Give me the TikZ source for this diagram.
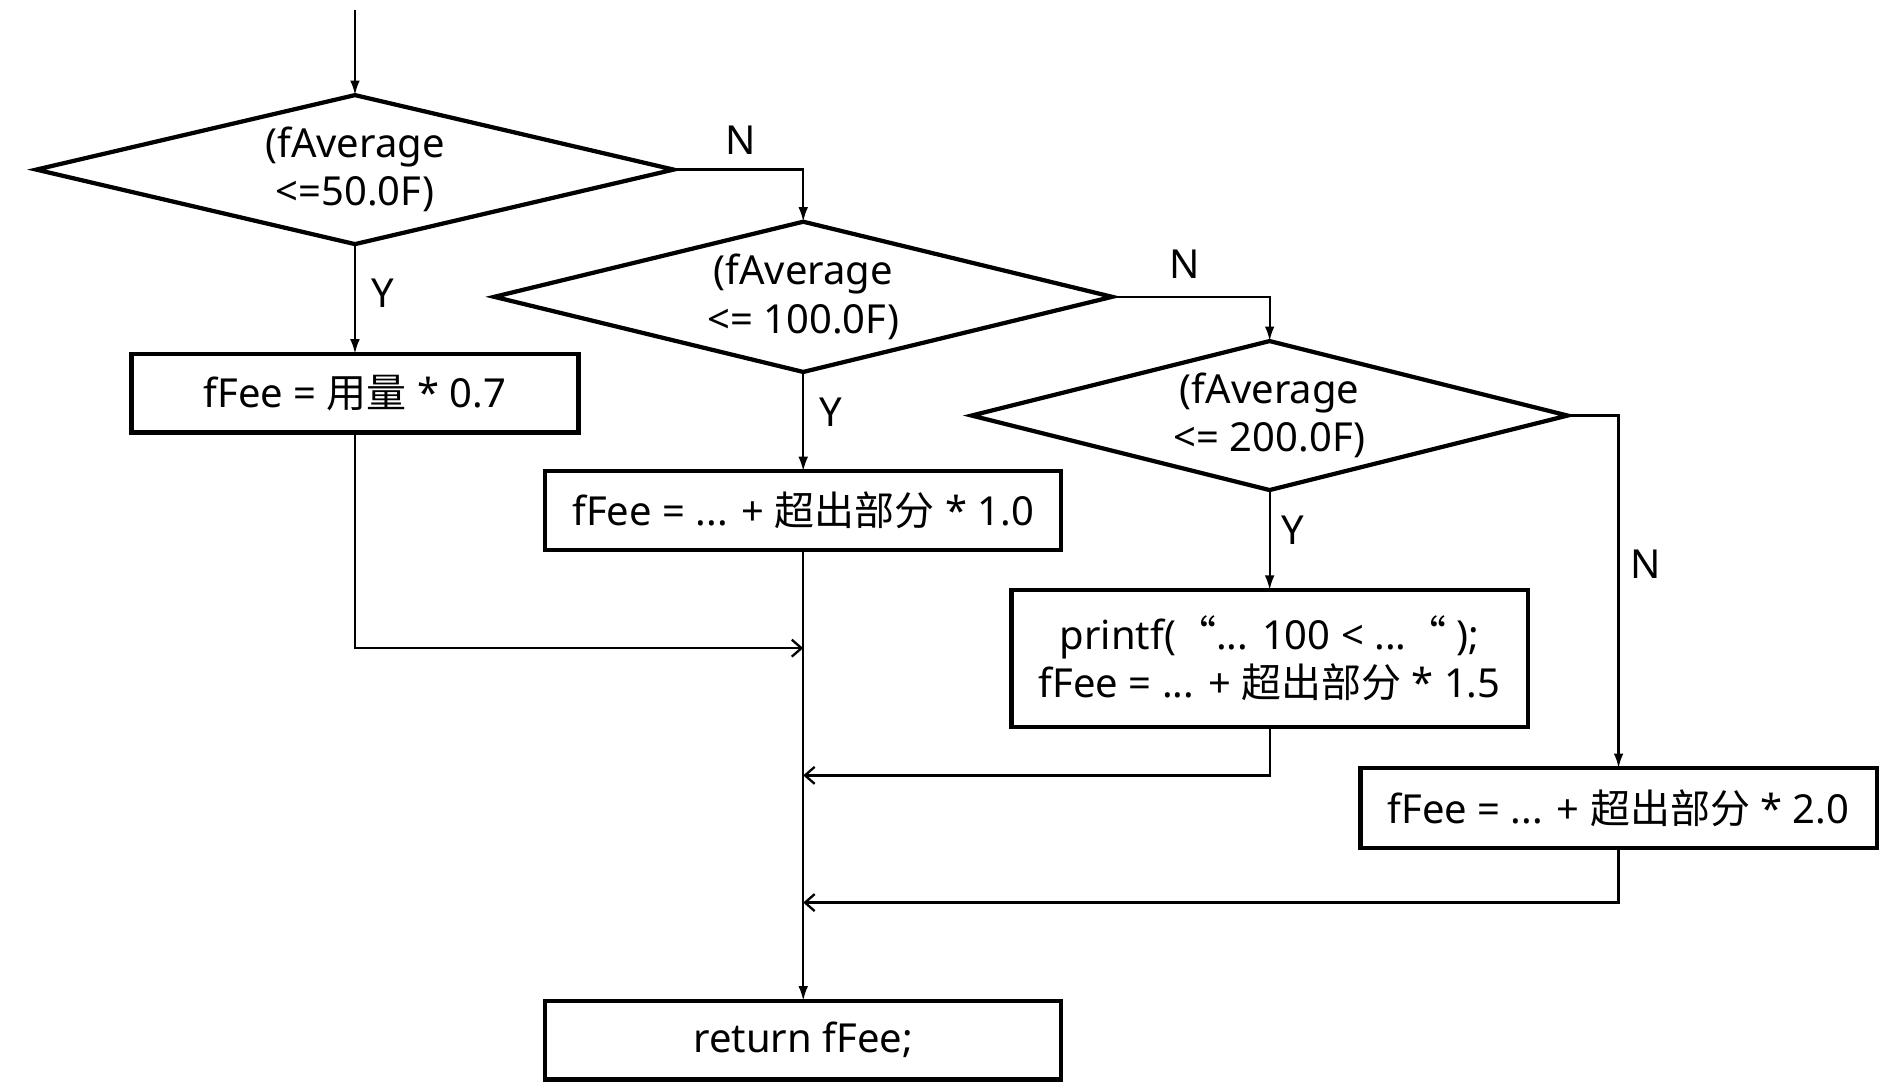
\documentclass[tikz,border=0pt]{standalone}
\usepackage{fontspec}
\setmainfont{Noto Sans}
\newfontfamily\cjk{Noto Sans CJK SC}
\usetikzlibrary{shapes.geometric,arrows.meta}
\newcommand\myfs{\fontsize{33}{40}\selectfont}
\newcommand\zh[1]{{\cjk #1}}
\begin{document}
\begin{tikzpicture}[x=1pt,y=-1pt,
  dec/.style={diamond, draw, line width=3.5pt, inner sep=0pt, outer sep=0pt, align=center, font=\myfs, aspect=4.2},
  box/.style={rectangle, draw, line width=3.5pt, inner sep=0pt, outer sep=0pt, align=center, font=\myfs},
  flow/.style={line width=1.9pt, -{Latex[length=12pt,width=8pt]}},
  mergeline/.style={line width=1.9pt, -{Straight Barb[length=8pt,width=14pt]}},
  lab/.style={font=\myfs}]
\useasboundingbox (0,0) rectangle (1565,898);
\node[dec, minimum width=526pt, minimum height=123pt] (d1) at (293,140) {(fAverage\\<=50.0F)};
\node[dec, minimum width=510pt, minimum height=124pt] (d2) at (663,245) {(fAverage\\<= 100.0F)};
\node[dec, minimum width=492pt, minimum height=123pt] (d3) at (1048,343) {(fAverage\\<= 200.0F)};
\node[box, minimum width=369pt, minimum height=65pt] (b1) at (293,324.5) {fFee = \zh{用量} * 0.7};
\node[box, minimum width=426pt, minimum height=65pt] (b2) at (663,421.5) {fFee = ... + \zh{超出部分} * 1.0};
\node[box, minimum width=426pt, minimum height=113pt] (b3) at (1048,543.5) {printf(\zh{“}... 100 < ...\zh{“} );\\fFee = ... + \zh{超出部分} * 1.5};
\node[box, minimum width=426pt, minimum height=66pt] (b4) at (1336,667) {fFee = ... + \zh{超出部分} * 2.0};
\node[box, minimum width=426pt, minimum height=65pt] (ret) at (663,858.5) {return fFee;};
\coordinate (start) at (293,8);
\coordinate (m1) at (663,535);
\coordinate (m2) at (663,640);
\coordinate (m3) at (663,745);
\draw[flow] (start) -- (d1.north);
\draw[flow] (d1.south) -- (b1.north);
\draw[flow] (d1.east) -| (d2.north);
\draw[flow] (d2.south) -- (b2.north);
\draw[flow] (d2.east) -| (d3.north);
\draw[flow] (d3.south) -- (b3.north);
\draw[flow] (d3.east) -| (b4.north);
\draw[flow] (b2.south) -- (ret.north);
\draw[mergeline] (b1.south) |- (m1);
\draw[mergeline] (b3.south) |- (m2);
\draw[mergeline] (b4.south) |- (m3);
\node[lab] (n1) at (611,116) {N};
\node[lab] (y1) at (316,242) {Y};
\node[lab] (n2) at (978,218) {N};
\node[lab] (y2) at (686,340) {Y};
\node[lab] (y3) at (1067,438) {Y};
\node[lab] (n3) at (1358,466) {N};
\end{tikzpicture}
\end{document}
